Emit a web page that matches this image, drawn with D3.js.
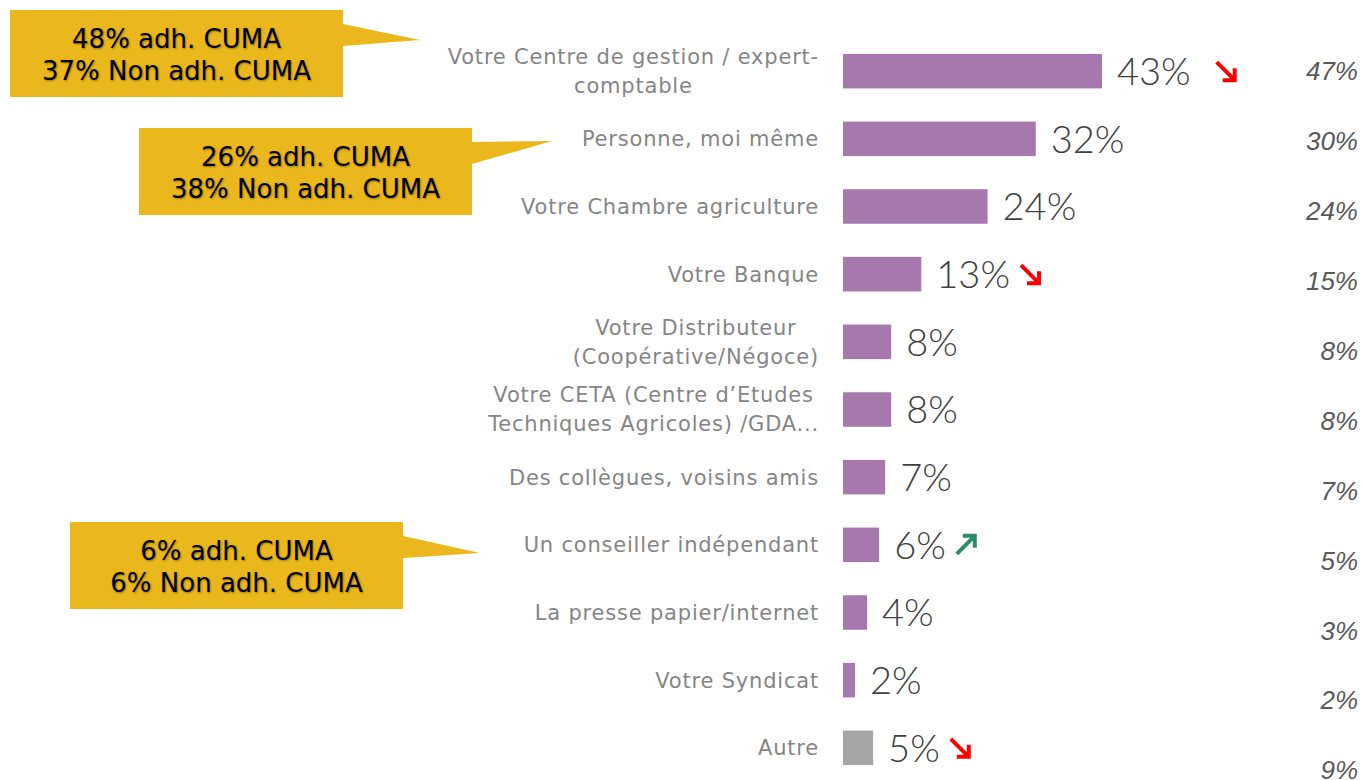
<!DOCTYPE html>
<html lang="fr">
<head>
<meta charset="utf-8">
<title>Conseillers</title>
<style>
  body { margin: 0; background: #fff; }
  .cat { font-family: "DejaVu Sans", sans-serif; font-size: 21px; letter-spacing: 0.8px; fill: #858585; }
  .val { font-family: "Lato", "DejaVu Sans", sans-serif; font-weight: 300; font-size: 38px; fill: #404040; }
  .prev { font-family: "Liberation Sans", sans-serif; font-style: italic; font-size: 26px; fill: #595959; }
  .callout text { font-family: "DejaVu Sans", Verdana, sans-serif; font-size: 26px; fill: #000;
    text-shadow: 1px 1px 2px rgba(0,0,0,0.35); }
</style>
</head>
<body>
<script src="https://cdn.jsdelivr.net/npm/d3@7"></script>
<svg id="chart"></svg>
<script>
  const width = 1364;
  const height = 780;

  const labels = [
    ["Votre Centre de gestion / expert-", "comptable"],
    ["Personne, moi même"],
    ["Votre Chambre agriculture"],
    ["Votre Banque"],
    ["Votre Distributeur", "(Coopérative/Négoce)"],
    ["Votre CETA (Centre d\u2019Etudes", "Techniques Agricoles) /GDA..."],
    ["Des collègues, voisins amis"],
    ["Un conseiller indépendant"],
    ["La presse papier/internet"],
    ["Votre Syndicat"],
    ["Autre"]
  ];
  const values = [43, 32, 24, 13, 8, 8, 7, 6, 4, 2, 5];
  const previous = [47, 30, 24, 15, 8, 8, 7, 5, 3, 2, 9];
  const trends = ["down", null, null, "down", null, null, null, "up", null, null, "down"];

  const callouts = [
    { row: 0, lines: ["48% adh. CUMA", "37% Non adh. CUMA"] },
    { row: 1, lines: ["26% adh. CUMA", "38% Non adh. CUMA"] },
    { row: 7, lines: ["6% adh. CUMA", "6% Non adh. CUMA"] }
  ];

  const svg = d3.select("#chart").attr("width", width).attr("height", height);

  const barX = 843;
  const x = d3.scaleLinear().domain([0, 43]).range([0, 259]);
  const y = d3.scaleBand().domain(d3.range(values.length)).range([37, 782]).paddingInner(0.49).paddingOuter(0.25);
  const yPrev = d3.scalePoint().domain(d3.range(values.length)).range([71, 770]);

  const rows = svg.selectAll("g.row")
    .data(values)
    .enter()
    .append("g")
    .attr("class", "row");

  rows.append("rect")
    .attr("x", barX)
    .attr("y", (d, i) => y(i))
    .attr("width", d => x(d))
    .attr("height", y.bandwidth())
    .attr("fill", (d, i) => i === values.length - 1 ? "#a5a5a5" : "#a678ae");

  const valText = rows.append("text")
    .attr("class", "val")
    .attr("x", d => barX + x(d) + 15)
    .attr("y", (d, i) => y(i) + y.bandwidth() / 2)
    .attr("dy", "0.36em")
    .text(d => d + "%");

  // trend arrows, placed after the value label
  valText.each(function(d, i) {
    const t = trends[i];
    if (!t) return;
    const end = barX + x(d) + 15 + this.getComputedTextLength();
    const cy = y(i) + y.bandwidth() / 2;
    const g = svg.append("g")
      .attr("transform", `translate(${end + (i === 0 ? 35 : 20)}, ${cy})`);
    const s = 9;
    const path = t === "down"
      ? `M${-s},${-s}L${s},${s}M${s - 12},${s}L${s},${s}L${s},${s - 12}`
      : `M${-s},${s}L${s},${-s}M${s - 12},${-s}L${s},${-s}L${s},${-s + 12}`;
    g.append("path")
      .attr("d", path)
      .attr("fill", "none")
      .attr("stroke", t === "down" ? "#ff0000" : "#2f8a6b")
      .attr("stroke-width", 4);
  });

  // category labels: multi-line, centred as a block right-aligned at 819
  rows.each(function(d, i) {
    const lines = labels[i];
    const g = d3.select(this).append("text").attr("class", "cat");
    const cy = y(i) + y.bandwidth() / 2;
    const lh = 29;
    lines.forEach((l, j) => {
      g.append("tspan")
        .attr("y", cy + (j - (lines.length - 1) / 2) * lh)
        .attr("dy", "0.35em")
        .text(l);
    });
    let maxW = 0;
    g.selectAll("tspan").each(function() { maxW = Math.max(maxW, this.getComputedTextLength()); });
    g.attr("text-anchor", "middle");
    g.selectAll("tspan").attr("x", 819 - maxW / 2);
  });

  svg.selectAll("text.prev")
    .data(previous)
    .enter()
    .append("text")
    .attr("class", "prev")
    .attr("x", 1358)
    .attr("y", (d, i) => yPrev(i))
    .attr("dy", "0.36em")
    .attr("text-anchor", "end")
    .text(d => d + "%");

  // yellow callouts
  const boxes = [
    { x: 10, y: 10, tip: [420, 40] },
    { x: 139, y: 128, tip: [552, 141] },
    { x: 70, y: 522, tip: [480, 553] }
  ];
  const bw = 333, bh = 87;
  callouts.forEach((c, k) => {
    const b = boxes[k];
    const g = svg.append("g").attr("class", "callout");
    g.append("path")
      .attr("d", `M${b.x},${b.y}H${b.x + bw}V${b.y + 14}L${b.tip[0]},${b.tip[1]}L${b.x + bw},${b.y + 36}V${b.y + bh}H${b.x}Z`)
      .attr("fill", "#eab81c");
    c.lines.forEach((l, j) => {
      g.append("text")
        .attr("x", b.x + bw / 2)
        .attr("y", b.y + 29 + j * 32)
        .attr("dy", "0.35em")
        .attr("text-anchor", "middle")
        .text(l);
    });
  });
</script>
</body>
</html>
